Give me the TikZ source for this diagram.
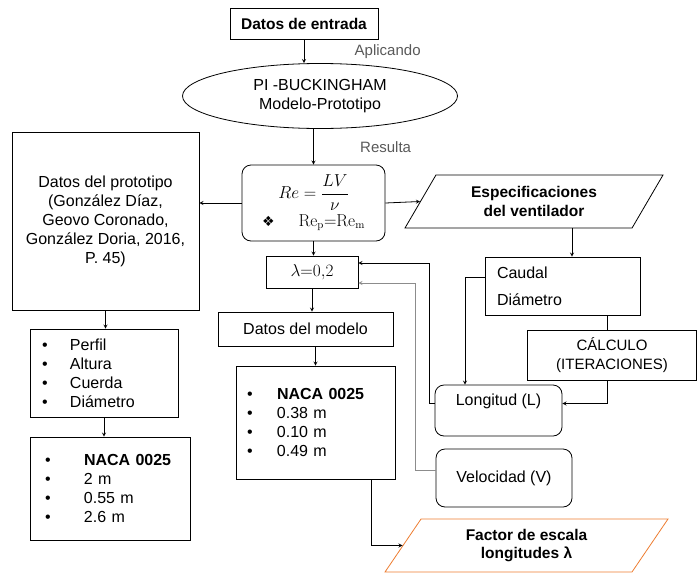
\documentclass[tikz,border=0pt]{standalone}
\usepackage[no-math]{fontspec}
\setmainfont{Liberation Sans}
\newfontfamily\djv{DejaVu Sans}
\usetikzlibrary{shapes.geometric,positioning,calc}
\definecolor{orng}{RGB}{237,125,49}
\newcommand\txtn{\fontsize{16}{19}\selectfont}
\newcommand\txtb{\fontsize{15.5}{18.5}\selectfont\bfseries}
\newcommand\itm[2][28pt]{\makebox[#1][l]{\textbullet}#2}

\begin{document}
\begin{tikzpicture}[x=1pt, y=-1pt, line width=0.8pt,
    every node/.style={font=\txtn},
    box/.style={draw, rectangle, align=center, inner sep=0pt},
    rbox/.style={box, rounded corners=9pt},
    lst/.style={draw, rectangle, align=left, inner ysep=0pt},
    io/.style={draw, trapezium, trapezium left angle=44, trapezium right angle=136,
      trapezium stretches body, align=center, inner sep=0pt, font=\txtb},
    arr/.style={->, >=stealth},
    lbl/.style={font=\fontsize{15}{18}\selectfont, text=black!65}]
\useasboundingbox (0,0) rectangle (698,573);
% centre column
\node[box, minimum width=148, minimum height=31, font=\txtb] (entrada) at (304,23.5) {Datos de entrada};
\node[draw, ellipse, minimum width=275, minimum height=65, inner sep=0pt, align=center] (ell) at (320,96) {PI -BUCKINGHAM\\Modelo-Prototipo};
\node[rbox, minimum width=143, minimum height=76] (re) at (313.5,203)
  {$\displaystyle Re=\frac{LV}{\nu}$\\[3pt]{\djv\fontsize{14}{16}\selectfont ❖}\hspace{24pt}$\mathrm{Re_p{=}Re_m}$};
\node[box, minimum width=92, minimum height=32, font=\fontsize{17}{20}\selectfont] (lam) at (312,272) {$\lambda{=}0{,}2$};
\node[box, minimum width=175, minimum height=34] (modelo) at (305.5,329) {Datos del modelo};
\node[lst, text width=137, inner xsep=11, minimum height=113] (vals) at (315.5,422.5)
  {\itm[30pt]{\textbf{NACA 0025}}\\\itm[30pt]{0.38 m}\\\itm[30pt]{0.10 m}\\\itm[30pt]{0.49 m}};
% prototype column
\node[box, minimum width=187, minimum height=178] (proto) at (105.5,221)
  {Datos del prototipo\\(González Díaz,\\Geovo Coronado,\\González Doria, 2016,\\P. 45)};
\node[lst, text width=124, inner xsep=12, minimum height=88] (perfil) at (104,373)
  {\itm{Perfil}\\\itm{Altura}\\\itm{Cuerda}\\\itm{Diámetro}};
\node[lst, text width=130, inner xsep=15, minimum height=103] (nacap) at (110,488.5)
  {\itm[39pt]{\textbf{NACA 0025}}\\\itm[39pt]{2 m}\\\itm[39pt]{0.55 m}\\\itm[39pt]{2.6 m}};
% fan column
\node[io, minimum width=258, minimum height=53] (esp) at (534,201.5) {Especificaciones\\del ventilador};
\node[lst, text width=131, inner xsep=12, minimum height=58] (caudal) at (562.5,286) {Caudal\\[8pt]Diámetro};
\node[box, minimum width=169, minimum height=50, font=\fontsize{15}{19}\selectfont] (calc) at (612,355) {CÁLCULO\\(ITERACIONES)};
\node[rbox, minimum width=127, text height=16, text depth=27, inner ysep=4] (long) at (498.5,410.5) {Longitud (L)};
\node[rbox, minimum width=136, minimum height=58] (vel) at (504,478) {Velocidad (V)};
\node[io, draw=orng, minimum width=283, minimum height=53, trapezium left angle=42.5,
  trapezium right angle=137.5] (factor) at (526.5,545.5) {Factor de escala\\longitudes λ};
\coordinate (cn) at ($(caudal.north)+(9.5,0)$);
\coordinate (cc) at ($(calc.north)+(-5,0)$);
% connectors
\draw[arr] (entrada.south) -- node[lbl, right=47pt]{Aplicando} (ell.north -| entrada.south);
\draw[arr] (re.north |- ell.south) -- node[lbl, right=43pt]{Resulta} (re.north);
\draw[arr] (re.south) -- (lam.north -| re.south);
\draw[arr] (re.west) -- (re.west -| proto.east);
\draw[arr] (re.east) -- (esp.west);
\draw[arr] (cn |- esp.south) -- (cn);
\draw (cc |- caudal.south) -- (cc);
\draw[arr] (cc |- calc.south) |- ($(long.east)+(0,-7)$);
\draw[arr] ($(caudal.west)+(0,-9)$) -| ($(long.north)+(-33.5,0)$);
\draw[arr] ($(long.west)+(0,-7)$) -- ++(-5,0) |- ($(lam.east)+(0,-9)$);
\draw[arr, black!45] ($(vel.west)+(0,-8)$) -- ++(-20,0) |- ($(lam.east)+(0,11)$);
\draw[arr] (lam.south) -- (lam.south |- modelo.north);
\draw[arr] (vals.north |- modelo.south) -- (vals.north);
\draw[arr] ($(vals.south)+(55.5,0)$) |- (factor.west);
\draw[arr] (proto.south) -- (proto.south |- perfil.north);
\draw[arr] (perfil.south) -- (perfil.south |- nacap.north);
\end{tikzpicture}
\end{document}
